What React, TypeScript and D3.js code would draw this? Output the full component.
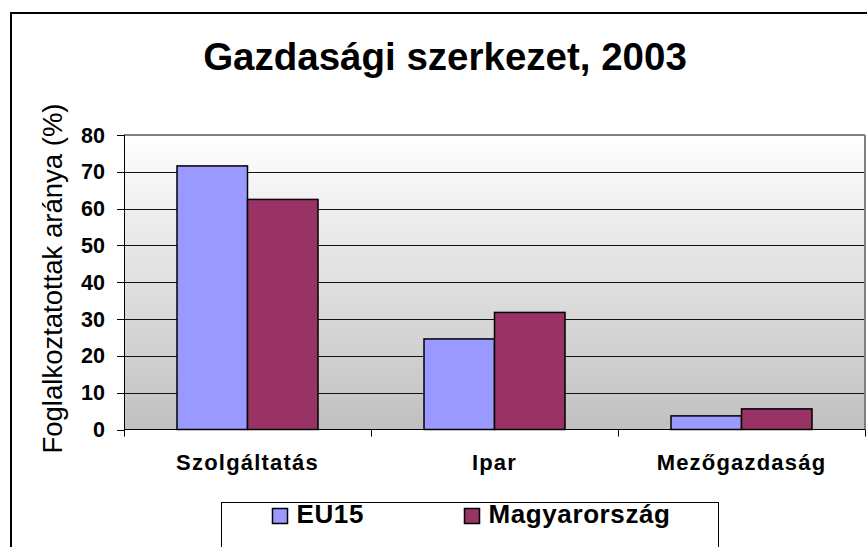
import React from "react";
import * as d3 from "d3";

const categories = ["Szolgáltatás", "Ipar", "Mezőgazdaság"];
const seriesNames = ["EU15", "Magyarország"];
const eu15Values = [71.6, 24.6, 3.7];
const huValues = [62.5, 31.8, 5.6];
const yTicks = [0, 10, 20, 30, 40, 50, 60, 70, 80];
const colors = ["#9999FF", "#993366"];

const W = 867;
const H = 547;
const plot = { left: 124, right: 865, top: 135, bottom: 429.5 };

export default function App() {
  const x0 = d3
    .scaleBand<string>()
    .domain(categories)
    .range([plot.left, plot.right])
    .paddingInner(0)
    .paddingOuter(0);
  const groupW = x0.bandwidth() * (141 / 247);
  const x1 = d3
    .scaleBand<string>()
    .domain(seriesNames)
    .range([0, groupW])
    .padding(0);
  const y = d3.scaleLinear().domain([0, 80]).range([plot.bottom, plot.top]);
  const series = [eu15Values, huValues];
  const font = "Arial, 'Liberation Sans', sans-serif";

  return (
    <svg
      width={W}
      height={H}
      style={{ position: "absolute", left: 0, top: 0, background: "#fff" }}
      fontFamily={font}
    >
      <defs>
        <linearGradient id="bg" x1="0" y1="0" x2="0" y2="1">
          <stop offset="0" stopColor="#ffffff" />
          <stop offset="1" stopColor="#c0c0c0" />
        </linearGradient>
      </defs>
      <rect x={0} y={0} width={W} height={H} fill="#fff" />
      {/* outer border */}
      <rect x={11} y={13} width={W + 20} height={H + 20} fill="none" stroke="#000" strokeWidth={2} />

      <text x={445} y={70} textAnchor="middle" fontSize={38.5} fontWeight="bold">
        Gazdasági szerkezet, 2003
      </text>

      {/* plot background */}
      <rect
        x={plot.left}
        y={plot.top}
        width={plot.right - plot.left}
        height={plot.bottom - plot.top}
        fill="url(#bg)"
      />
      {/* gridlines */}
      {yTicks.slice(1, -1).map((t) => (
        <line
          key={t}
          x1={plot.left}
          x2={plot.right}
          y1={Math.round(y(t)) + 0.5}
          y2={Math.round(y(t)) + 0.5}
          stroke="#111"
          strokeWidth={1}
        />
      ))}
      {/* plot border top and right */}
      <line x1={plot.left} x2={plot.right} y1={plot.top} y2={plot.top} stroke="#808080" strokeWidth={2} />
      <line x1={plot.right} x2={plot.right} y1={plot.top} y2={plot.bottom} stroke="#808080" strokeWidth={2} />

      {/* bars */}
      {categories.map((c, i) => (
        <g key={c} transform={`translate(${(x0(c) as number) + (x0.bandwidth() - groupW) / 2},0)`}>
          {seriesNames.map((s, j) => (
            <rect
              key={s}
              x={x1(s) as number}
              y={y(series[j][i])}
              width={x1.bandwidth()}
              height={plot.bottom - y(series[j][i])}
              fill={colors[j]}
              stroke="#000"
              strokeWidth={1.5}
            />
          ))}
        </g>
      ))}

      {/* y axis */}
      <line x1={plot.left + 0.5} x2={plot.left + 0.5} y1={plot.top} y2={plot.bottom} stroke="#000" />
      {yTicks.map((t) => (
        <g key={t}>
          <line
            x1={plot.left - 7}
            x2={plot.left}
            y1={Math.round(y(t)) + 0.5}
            y2={Math.round(y(t)) + 0.5}
            stroke="#000"
          />
          <text x={105} y={y(t) + 7.5} textAnchor="end" fontSize={21.5} fontWeight="bold">
            {t}
          </text>
        </g>
      ))}
      {/* x axis */}
      <line x1={plot.left} x2={plot.right} y1={plot.bottom} y2={plot.bottom} stroke="#000" />
      {[...categories.map((c) => x0(c) as number), plot.right].map((xv, i) => (
        <line key={i} x1={xv + 0.5} x2={xv + 0.5} y1={plot.bottom} y2={plot.bottom + 7} stroke="#000" />
      ))}
      {categories.map((c) => (
        <text
          key={c}
          x={(x0(c) as number) + x0.bandwidth() / 2}
          y={470}
          textAnchor="middle"
          fontSize={22}
          fontWeight="bold"
          letterSpacing={1.2}
        >
          {c}
        </text>
      ))}

      <text
        transform={`translate(62,278.5) rotate(-90)`}
        textAnchor="middle"
        fontSize={27.5}
      >
        Foglalkoztatottak aránya (%)
      </text>

      {/* legend */}
      <rect x={221.5} y={502.5} width={497} height={60} fill="#fff" stroke="#000" strokeWidth={1} />
      {seriesNames.map((s, j) => {
        const lx = [272, 464][j];
        return (
          <g key={s}>
            <rect x={lx + 0.5} y={508.5} width={15} height={15} fill={colors[j]} stroke="#000" strokeWidth={1.5} />
            <text x={lx + 24.5} y={523.3} fontSize={26} fontWeight="bold" letterSpacing={0.6}>
              {s}
            </text>
          </g>
        );
      })}
    </svg>
  );
}
